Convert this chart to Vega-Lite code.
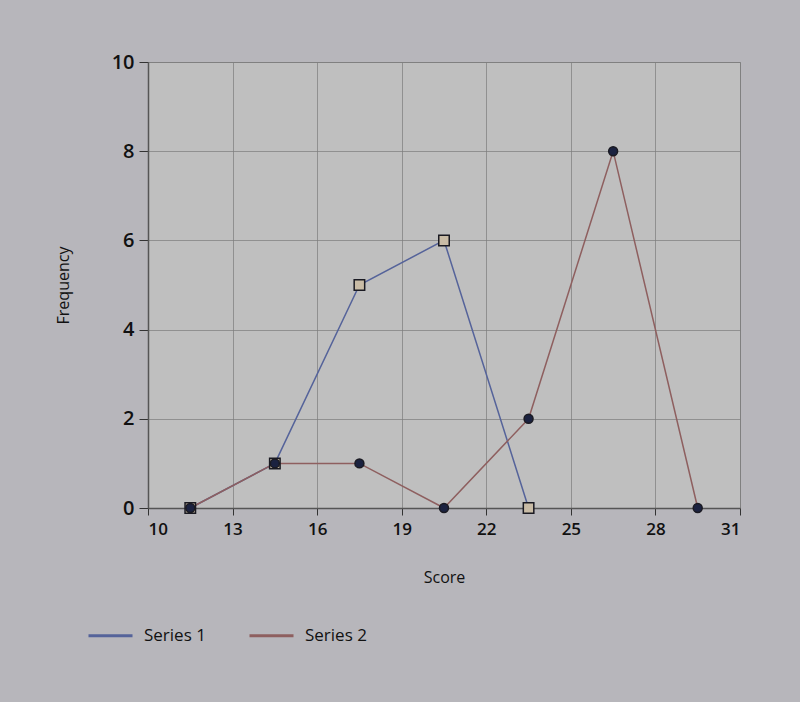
{
  "$schema": "https://vega.github.io/schema/vega-lite/v6.json",
  "width": 592,
  "height": 446,
  "autosize": {"type": "none"},
  "padding": {"left": 148, "top": 62, "right": 60, "bottom": 194},
  "background": "#b7b6bb",
  "config": {
    "font": "Open Sans",
    "view": {"fill": "#bfbfbf", "stroke": "#8a8a8a", "strokeWidth": 1},
    "axis": {"gridColor": "#7c7c7c", "gridOpacity": 0.7, "domainColor": "#555555", "tickColor": "#333333", "labelColor": "#111111", "titleColor": "#111111", "titleFontWeight": "normal", "titleFontSize": 16}
  },
  "data": {
    "values": [
      {"series": "Series 1", "score": 11.5, "freq": 0},
      {"series": "Series 1", "score": 14.5, "freq": 1},
      {"series": "Series 1", "score": 17.5, "freq": 5},
      {"series": "Series 1", "score": 20.5, "freq": 6},
      {"series": "Series 1", "score": 23.5, "freq": 0},
      {"series": "Series 2", "score": 11.5, "freq": 0},
      {"series": "Series 2", "score": 14.5, "freq": 1},
      {"series": "Series 2", "score": 17.5, "freq": 1},
      {"series": "Series 2", "score": 20.5, "freq": 0},
      {"series": "Series 2", "score": 23.5, "freq": 2},
      {"series": "Series 2", "score": 26.5, "freq": 8},
      {"series": "Series 2", "score": 29.5, "freq": 0}
    ]
  },
  "encoding": {
    "x": {
      "field": "score", "type": "quantitative", "title": "Score",
      "scale": {"domain": [10, 31], "nice": false, "zero": false},
      "axis": {"values": [10, 13, 16, 19, 22, 25, 28, 31], "labelFontSize": 17, "labelFontWeight": 600, "tickSize": 7, "labelPadding": 6, "titlePadding": 32, "domainWidth": 1.5}
    },
    "y": {
      "field": "freq", "type": "quantitative", "title": "Frequency",
      "scale": {"domain": [0, 10], "nice": false},
      "axis": {"values": [0, 2, 4, 6, 8, 10], "labelFontSize": 20, "labelFontWeight": 600, "tickSize": 9, "labelPadding": 5, "titlePadding": 40, "domainWidth": 1.5}
    }
  },
  "layer": [
    {
      "mark": {"type": "line", "strokeWidth": 1.5},
      "encoding": {
        "color": {
          "field": "series", "type": "nominal",
          "scale": {"domain": ["Series 1", "Series 2"], "range": ["#55639a", "#8e5f5f"]},
          "legend": {
            "title": null, "orient": "none", "direction": "horizontal",
            "legendX": -61, "legendY": 550,
            "symbolType": "stroke", "symbolSize": 1936, "symbolStrokeWidth": 3,
            "labelFontSize": 17, "labelColor": "#111111", "columnPadding": 37, "labelOffset": 10
          }
        }
      }
    },
    {
      "transform": [{"filter": "datum.series === 'Series 1'"}],
      "mark": {"type": "point", "shape": "square", "filled": true, "fill": "#c9bca6", "opacity": 1, "stroke": "#1a1a22", "strokeWidth": 1.5, "size": 110}
    },
    {
      "transform": [{"filter": "datum.series === 'Series 2'"}],
      "mark": {"type": "point", "shape": "circle", "filled": true, "fill": "#1b2240", "opacity": 1, "stroke": "#1a1a22", "strokeWidth": 1.5, "size": 80}
    }
  ]
}
